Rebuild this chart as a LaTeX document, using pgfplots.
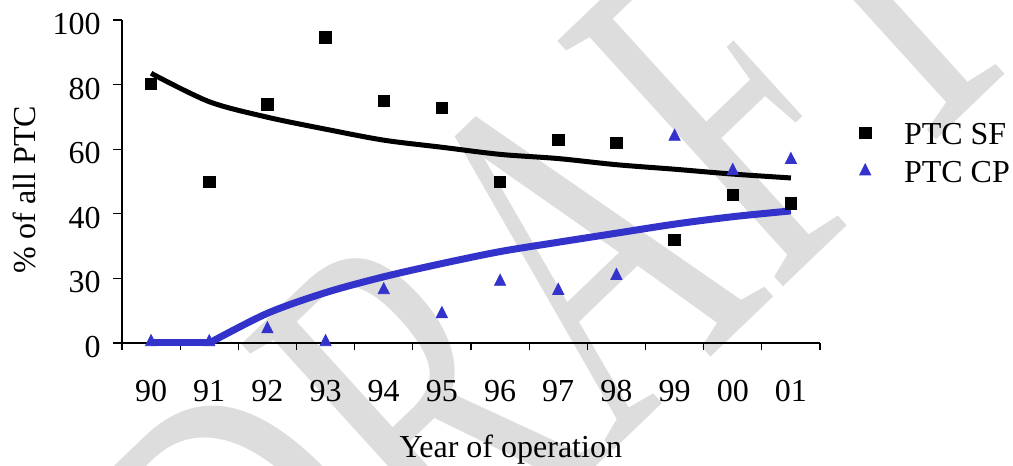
\documentclass[border=0pt]{standalone}
\usepackage{fontspec}
\setmainfont{Liberation Serif}
\usepackage{pgfplots}
\pgfplotsset{compat=1.18}
\definecolor{ptcblue}{RGB}{51,51,204}
\definecolor{wmgray}{RGB}{221,221,221}

\begin{document}
\fontsize{16}{19}\selectfont
\begin{tikzpicture}
% page frame (1 px of the reference = 0.5pt)
\useasboundingbox (-61pt,-61.5pt) rectangle (445.5pt,171.5pt);
\clip (-61pt,-61.5pt) rectangle (445.5pt,171.5pt);
% watermark, condensed and turned
\node[anchor=base west, inner sep=0pt, text=wmgray,
      cm={1.135,1.0885,-1.7125,1.885,(0,0)},
      font=\fontsize{100}{100}\selectfont] at (86.75pt,-206pt)
      {{\color{wmgray}D}{\color{wmgray}R}{\color{wmgray}A}{\color{wmgray}F}{\color{wmgray}T}};
\begin{axis}[
  at={(0,0)}, anchor=south west,
  scale only axis, width=349pt, height=161.5pt,
  xmin=0, xmax=12, ymin=0, ymax=100,
  axis lines*=left,
  axis line style={line width=0.6pt},
  clip=false,
  /pgf/number format/assume math mode=true,
  xtick={0.5,1.5,...,11.5},
  xticklabels={90,91,92,93,94,95,96,97,98,99,00,01},
  minor xtick={0,1,...,12},
  major x tick style={draw=none},
  tick style={line width=0.6pt, black},
  minor tick length=3.5pt,
  major tick length=4.5pt,
  tick align=outside,
  ytick={0,20,40,60,80,100},
  yticklabels={0,30,40,60,80,100},
  xticklabel style={anchor=base, inner sep=0pt, yshift=-24.5pt},
  yticklabel style={anchor=east, inner sep=0pt, xshift=-6pt, yshift=-2pt},
  xlabel={Year of operation},
  xlabel style={at={(axis description cs:0.557,-0.353)}, anchor=base},
  ylabel={\% of all PTC},
  ylabel style={at={(axis description cs:-0.1246,0.474)}, anchor=base},
  legend image code/.code={\draw[#1] plot coordinates {(0pt,0.5pt)};},
  legend cell align=left,
  legend style={at={(axis description cs:1.0559,0.682)}, anchor=north west,
    draw=none, fill=none, inner sep=0pt,
    nodes={inner sep=0pt, text depth=0pt},
    column sep=16.5pt, row sep=8.7pt},
]
% PTC SF
\addplot[only marks, mark=square*, mark size=2.9pt, black] coordinates {
  (0.5,80.2) (1.5,49.9) (2.5,73.9) (3.5,94.6) (4.5,74.9) (5.5,72.8)
  (6.5,49.9) (7.5,62.9) (8.5,62.0) (9.5,31.9) (10.5,45.8) (11.5,43.2)};
\addlegendentry{PTC SF}
% PTC CP
\addplot[only marks, mark=triangle*, mark size=3.2pt, mark options={yscale=1.15}, ptcblue] coordinates {
  (0.5,0.3) (1.5,0.3) (2.5,4.3) (3.5,0.3) (4.5,16.4) (5.5,9.0)
  (6.5,19.0) (7.5,16.2) (8.5,20.8) (9.5,63.9) (10.5,53.3) (11.5,56.7)};
\addlegendentry{PTC CP}
% trend lines
\addplot[forget plot, ptcblue, line width=3.5pt] coordinates {(0.5,0) (1.5,0)};
\addplot[forget plot, ptcblue, line width=3.5pt, smooth, tension=0.5] coordinates {
  (1.5,0) (2.5,9.2) (3.5,15.6) (4.5,20.5) (5.5,24.6) (6.5,28.3)
  (7.5,31.2) (8.5,34.0) (9.5,36.8) (10.5,39.1) (11.5,40.9)};
\addplot[forget plot, black, line width=2.5pt, smooth, tension=0.5] coordinates {
  (0.5,83.5) (1.5,74.7) (2.5,69.9) (3.5,66.2) (4.5,62.8) (5.5,60.6)
  (6.5,58.4) (7.5,57.1) (8.5,55.2) (9.5,53.8) (10.5,52.3) (11.5,51.1)};
\end{axis}
\end{tikzpicture}
\end{document}
